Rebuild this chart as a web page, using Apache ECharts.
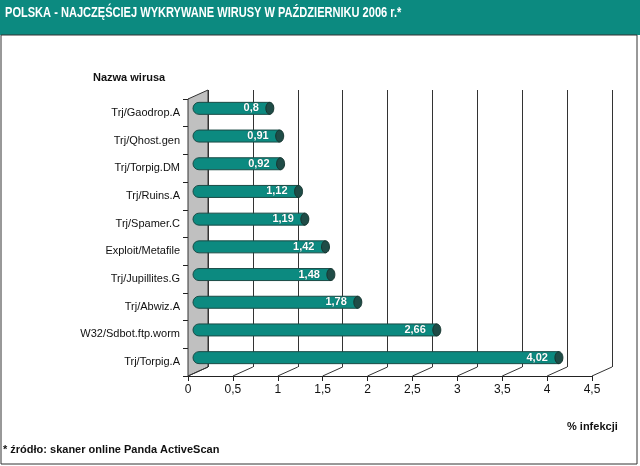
<!DOCTYPE html>
<html><head><meta charset="utf-8">
<script src="https://cdn.jsdelivr.net/npm/echarts@6/dist/echarts.min.js"></script>
<style>html,body{margin:0;padding:0;background:#fff}#c{width:640px;height:466px}</style>
</head><body><div id="c"></div>
<script>
const categories = ['Trj/Gaodrop.A','Trj/Qhost.gen','Trj/Torpig.DM','Trj/Ruins.A','Trj/Spamer.C','Exploit/Metafile','Trj/Jupillites.G','Trj/Abwiz.A','W32/Sdbot.ftp.worm','Trj/Torpig.A'];
const values = [0.8, 0.91, 0.92, 1.12, 1.19, 1.42, 1.48, 1.78, 2.66, 4.02];
const xTicks = [0, 0.5, 1, 1.5, 2, 2.5, 3, 3.5, 4, 4.5];
const titleText = 'POLSKA - NAJCZĘŚCIEJ WYKRYWANE WIRUSY W PAŹDZIERNIKU 2006 r.*';
const yAxisName = 'Nazwa wirusa';
const xAxisName = '% infekcji';
const footnote = '* źródło: skaner online Panda ActiveScan';

const FONT = 'Liberation Sans, Arial, sans-serif';
const TEAL = '#0c8a80';
const DX = 20, DY = -9;
const fmt = v => String(v).replace('.', ',');
const xMin = xTicks[0], xMax = xTicks[xTicks.length - 1], xStep = xTicks[1] - xTicks[0];

const chart = echarts.init(document.getElementById('c'), null, {renderer: 'canvas'});
const gridFront = {left: 188, top: 99, width: 404, height: 277};
const gridBack = {left: 188 + DX, top: 99 + DY, width: 404, height: 277};
const gridMid = {left: 188 + DX / 2, top: 99 + DY / 2, width: 404, height: 277};

function hiddenValueAxis(gi, split) {
  return {type: 'value', gridIndex: gi, min: xMin, max: xMax, interval: xStep, show: true,
    axisLine: {show: false}, axisTick: {show: false}, axisLabel: {show: false},
    splitLine: {show: !!split, lineStyle: {color: '#333', width: 1}}};
}
function hiddenCatAxis(gi) {
  return {type: 'category', gridIndex: gi, data: categories, inverse: true, show: false};
}

chart.setOption({
  animation: false,
  backgroundColor: '#fff',
  grid: [gridFront, gridBack, gridMid],
  xAxis: [
    {type: 'value', gridIndex: 0, min: xMin, max: xMax, interval: xStep,
      axisLine: {show: true, lineStyle: {color: '#222'}},
      axisTick: {show: true, length: 5, lineStyle: {color: '#222'}},
      axisLabel: {formatter: fmt, fontFamily: FONT, fontSize: 12, color: '#111', margin: 8},
      splitLine: {show: false}},
    hiddenValueAxis(1, true),
    hiddenValueAxis(2, false)
  ],
  yAxis: [
    {type: 'category', gridIndex: 0, data: categories, inverse: true,
      axisLine: {show: true, lineStyle: {color: '#222'}},
      axisTick: {show: true, length: 5, lineStyle: {color: '#222'}},
      axisLabel: {fontFamily: FONT, fontSize: 11, color: '#111', margin: 8}},
    hiddenCatAxis(1),
    hiddenCatAxis(2)
  ],
  graphic: [
    {type: 'rect', shape: {x: 0, y: 0, width: 640, height: 35}, style: {fill: TEAL}, z: 0},
    {type: 'rect', shape: {x: 1, y: 35, width: 636, height: 429}, style: {fill: 'none', stroke: '#333', lineWidth: 1}, z: 0},
    {type: 'text', x: 5, y: 13, scaleX: 0.79, style: {text: titleText, fill: '#fff', font: 'bold 14px ' + FONT, textVerticalAlign: 'middle'}, z: 10},
    {type: 'text', x: 93, y: 78, style: {text: yAxisName, fill: '#111', font: 'bold 11px ' + FONT, textVerticalAlign: 'middle'}, z: 10},
    {type: 'text', x: 567, y: 427, style: {text: xAxisName, fill: '#111', font: 'bold 11px ' + FONT, textVerticalAlign: 'middle'}, z: 10},
    {type: 'text', x: 3, y: 450, style: {text: footnote, fill: '#111', font: 'bold 11px ' + FONT, textVerticalAlign: 'middle'}, z: 10}
  ],
  series: [
    {
      type: 'custom', xAxisIndex: 0, yAxisIndex: 0, z: 1, silent: true,
      data: [[0, 0]],
      renderItem: function (params, api) {
        const cs = params.coordSys;
        return {type: 'polygon', shape: {points: [
          [cs.x, cs.y], [cs.x + DX, cs.y + DY], [cs.x + DX, cs.y + cs.height + DY], [cs.x, cs.y + cs.height]
        ]}, style: {fill: '#c0c0c0', stroke: '#333', lineWidth: 1}};
      }
    },
    {
      type: 'custom', xAxisIndex: 0, yAxisIndex: 0, z: 1, silent: true,
      data: xTicks.map(t => [t, 0]),
      encode: {x: 0},
      renderItem: function (params, api) {
        const cs = params.coordSys;
        const px = api.coord([api.value(0), 0])[0];
        const by = cs.y + cs.height;
        return {type: 'line', shape: {x1: px, y1: by, x2: px + DX, y2: by + DY},
          style: {stroke: '#333', lineWidth: 1}};
      }
    },
    {
      type: 'custom', xAxisIndex: 2, yAxisIndex: 2, z: 5, silent: true,
      data: values.map((v, i) => [v, i]),
      encode: {x: 0, y: 1},
      renderItem: function (params, api) {
        const v = api.value(0), idx = api.value(1);
        const p0 = api.coord([0, idx]);
        const p1 = api.coord([v, idx]);
        const h = 12, rx = 4;
        const x0 = p0[0] - 5, cy = p0[1];
        return {type: 'group', children: [
          {type: 'rect', shape: {x: x0, y: cy - h / 2, width: p1[0] - x0, height: h, r: [6, 0, 0, 6]},
            style: {fill: TEAL, stroke: '#1b4b46', lineWidth: 1}},
          {type: 'ellipse', shape: {cx: p1[0], cy: cy, rx: rx, ry: h / 2},
            style: {fill: '#1f4c47', stroke: '#15352f', lineWidth: 1}},
          {type: 'text', x: p1[0] - 11, y: cy,
            style: {text: fmt(v), fill: '#fff', font: 'bold 11px ' + FONT, textAlign: 'right', textVerticalAlign: 'middle',
              textShadowColor: 'rgba(0,40,35,0.6)', textShadowBlur: 1}}
        ]};
      }
    }
  ]
});
</script></body></html>
